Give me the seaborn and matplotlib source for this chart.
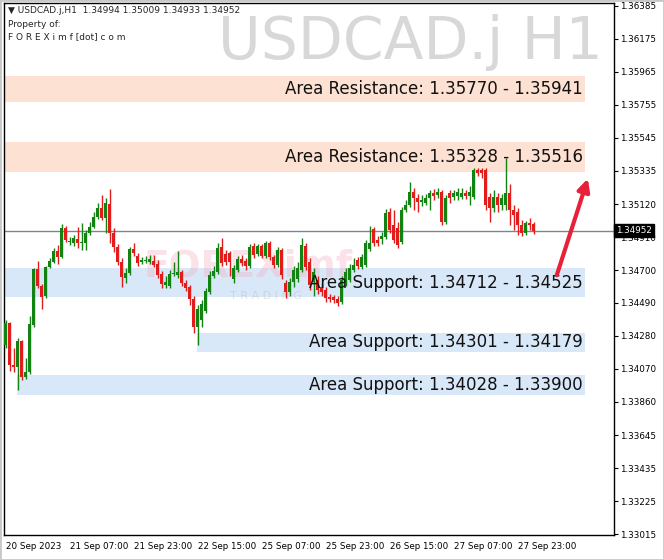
import matplotlib
matplotlib.use("Agg")
import matplotlib.pyplot as plt
import matplotlib.transforms as mtransforms
import numpy as np
import pandas as pd
import seaborn as sns

# USDCAD.j H1 candles (bar index 0 = 20 Sep 2023 15:00)
opens = [1.34222, 1.34363, 1.34095, 1.34082, 1.34248, 1.34018, 1.34050, 1.34350, 1.34708, 1.34599,
         1.34535, 1.34720, 1.34752, 1.34822, 1.34783, 1.34969, 1.34879, 1.34873, 1.34899, 1.34873,
         1.34873, 1.34937, 1.34975, 1.35039, 1.35096, 1.35033, 1.35121, 1.34937, 1.34847, 1.34752,
         1.34650, 1.34682, 1.34835, 1.34790, 1.34752, 1.34759, 1.34752, 1.34759, 1.34739, 1.34675,
         1.34605, 1.34599, 1.34675, 1.34669, 1.34688, 1.34618, 1.34592, 1.34516, 1.34337, 1.34382,
         1.34440, 1.34560, 1.34663, 1.34688, 1.34847, 1.34802, 1.34809, 1.34644, 1.34701, 1.34771,
         1.34759, 1.34727, 1.34854, 1.34802, 1.34854, 1.34790, 1.34873, 1.34783, 1.34733, 1.34828,
         1.34618, 1.34560, 1.34624, 1.34644, 1.34701, 1.34854, 1.34752, 1.34624, 1.34637, 1.34592,
         1.34573, 1.34528, 1.34528, 1.34516, 1.34496, 1.34624, 1.34637, 1.34701, 1.34765, 1.34720,
         1.34733, 1.34835, 1.34962, 1.34892, 1.34899, 1.34911, 1.35071, 1.34988, 1.34969, 1.34879,
         1.35084, 1.35115, 1.35198, 1.35160, 1.35135, 1.35128, 1.35160, 1.35192, 1.35179, 1.35198,
         1.35007, 1.35192, 1.35166, 1.35173, 1.35166, 1.35192, 1.35173, 1.35166, 1.35339, 1.35339,
         1.35339, 1.35166, 1.35096, 1.35166, 1.35115, 1.35115, 1.35192, 1.35084, 1.35071, 1.34988,
         1.34937, 1.35001, 1.34994]
highs = [1.34382, 1.34369, 1.34203, 1.34267, 1.34254, 1.34139, 1.34408, 1.34714, 1.34759, 1.34611,
         1.34727, 1.34777, 1.34841, 1.34860, 1.34994, 1.34982, 1.34911, 1.34924, 1.34975, 1.35001,
         1.34956, 1.35007, 1.35071, 1.35128, 1.35179, 1.35160, 1.35218, 1.34969, 1.34866, 1.34777,
         1.34714, 1.34847, 1.34873, 1.34809, 1.34783, 1.34790, 1.34796, 1.34796, 1.34765, 1.34695,
         1.34663, 1.34701, 1.34752, 1.34822, 1.34701, 1.34637, 1.34605, 1.34535, 1.34477, 1.34509,
         1.34586, 1.34695, 1.34727, 1.34873, 1.34905, 1.34828, 1.34822, 1.34733, 1.34790, 1.34796,
         1.34777, 1.34866, 1.34873, 1.34866, 1.34866, 1.34886, 1.34886, 1.34796, 1.34847, 1.34841,
         1.34637, 1.34650, 1.34727, 1.34752, 1.34905, 1.34873, 1.34777, 1.34714, 1.34663, 1.34618,
         1.34592, 1.34547, 1.34541, 1.34535, 1.34663, 1.34714, 1.34739, 1.34777, 1.34783, 1.34802,
         1.34892, 1.34982, 1.34975, 1.34918, 1.34943, 1.35090, 1.35096, 1.35084, 1.35007, 1.35103,
         1.35147, 1.35262, 1.35224, 1.35186, 1.35179, 1.35186, 1.35211, 1.35218, 1.35224, 1.35211,
         1.35179, 1.35211, 1.35211, 1.35224, 1.35224, 1.35211, 1.35237, 1.35352, 1.35352, 1.35352,
         1.35352, 1.35192, 1.35211, 1.35192, 1.35186, 1.35416, 1.35250, 1.35115, 1.35096, 1.35020,
         1.35014, 1.35033, 1.35009]
lows = [1.34203, 1.34057, 1.34050, 1.33935, 1.33999, 1.34006, 1.34037, 1.34337, 1.34586, 1.34452,
        1.34522, 1.34714, 1.34746, 1.34739, 1.34777, 1.34879, 1.34860, 1.34854, 1.34841, 1.34828,
        1.34828, 1.34924, 1.34969, 1.35027, 1.35020, 1.34937, 1.34873, 1.34815, 1.34733, 1.34592,
        1.34618, 1.34669, 1.34790, 1.34727, 1.34739, 1.34746, 1.34739, 1.34720, 1.34650, 1.34586,
        1.34586, 1.34586, 1.34663, 1.34650, 1.34599, 1.34567, 1.34477, 1.34299, 1.34222, 1.34337,
        1.34427, 1.34547, 1.34650, 1.34675, 1.34727, 1.34733, 1.34663, 1.34618, 1.34688, 1.34727,
        1.34701, 1.34714, 1.34777, 1.34790, 1.34777, 1.34777, 1.34765, 1.34714, 1.34720, 1.34644,
        1.34522, 1.34535, 1.34592, 1.34624, 1.34688, 1.34701, 1.34573, 1.34535, 1.34547, 1.34535,
        1.34496, 1.34496, 1.34490, 1.34471, 1.34483, 1.34599, 1.34624, 1.34688, 1.34708, 1.34708,
        1.34720, 1.34822, 1.34854, 1.34854, 1.34866, 1.34899, 1.34937, 1.34873, 1.34841, 1.34866,
        1.35071, 1.35103, 1.35084, 1.35071, 1.35109, 1.35115, 1.35084, 1.35147, 1.35160, 1.34988,
        1.34994, 1.35128, 1.35147, 1.35147, 1.35154, 1.35154, 1.35115, 1.35154, 1.35301, 1.35288,
        1.35084, 1.35007, 1.35071, 1.35071, 1.35084, 1.35084, 1.34988, 1.34956, 1.34924, 1.34918,
        1.34924, 1.34956, 1.34933]
closes = [1.34363, 1.34095, 1.34082, 1.34248, 1.34018, 1.34050, 1.34356, 1.34708, 1.34599, 1.34528,
          1.34720, 1.34759, 1.34822, 1.34783, 1.34969, 1.34892, 1.34886, 1.34905, 1.34873, 1.34879,
          1.34937, 1.34975, 1.35039, 1.35096, 1.35033, 1.35128, 1.34937, 1.34847, 1.34752, 1.34656,
          1.34682, 1.34835, 1.34809, 1.34746, 1.34765, 1.34765, 1.34771, 1.34733, 1.34669, 1.34611,
          1.34624, 1.34675, 1.34682, 1.34688, 1.34618, 1.34586, 1.34516, 1.34337, 1.34452, 1.34483,
          1.34567, 1.34669, 1.34695, 1.34841, 1.34746, 1.34752, 1.34752, 1.34714, 1.34771, 1.34746,
          1.34727, 1.34847, 1.34796, 1.34854, 1.34790, 1.34873, 1.34783, 1.34733, 1.34828, 1.34669,
          1.34560, 1.34624, 1.34701, 1.34714, 1.34860, 1.34720, 1.34605, 1.34688, 1.34573, 1.34560,
          1.34522, 1.34516, 1.34509, 1.34490, 1.34637, 1.34688, 1.34714, 1.34733, 1.34727, 1.34783,
          1.34873, 1.34873, 1.34873, 1.34873, 1.34918, 1.35065, 1.34956, 1.34892, 1.34860, 1.35084,
          1.35115, 1.35198, 1.35160, 1.35135, 1.35147, 1.35160, 1.35192, 1.35173, 1.35198, 1.35007,
          1.35160, 1.35160, 1.35192, 1.35198, 1.35192, 1.35173, 1.35198, 1.35339, 1.35320, 1.35320,
          1.35115, 1.35096, 1.35166, 1.35115, 1.35160, 1.35192, 1.35084, 1.35052, 1.34988, 1.34937,
          1.35001, 1.34988, 1.34952]

time_ticks = [0, 16, 32, 48, 64, 80, 96, 112, 128]
time_labels = ["20 Sep 2023", "21 Sep 07:00", "21 Sep 23:00", "22 Sep 15:00", "25 Sep 07:00",
               "25 Sep 23:00", "26 Sep 15:00", "27 Sep 07:00", "27 Sep 23:00"]
price_ticks = [1.36385, 1.36175, 1.35965, 1.35755, 1.35545, 1.35335, 1.35120, 1.34910, 1.34700,
               1.34490, 1.34280, 1.34070, 1.33860, 1.33645, 1.33435, 1.33225, 1.33015]

zone_names = ["Area Resistance", "Area Resistance", "Area Support", "Area Support", "Area Support"]
zone_low = [1.35770, 1.35328, 1.34525, 1.34179, 1.33900]
zone_high = [1.35941, 1.35516, 1.34712, 1.34301, 1.34028]
zone_text = ["1.35770 - 1.35941", "1.35328 - 1.35516", "1.34712 - 1.34525",
             "1.34301 - 1.34179", "1.34028 - 1.33900"]
zone_start = [-0.4, -0.4, -0.4, 47.9, 2.9]

last_price = 1.34952
header = "\u25bc USDCAD.j,H1  1.34994 1.35009 1.34933 1.34952"

df = pd.DataFrame({"open": opens, "high": highs, "low": lows, "close": closes})
df["bar"] = np.arange(len(df))
df["up"] = df["close"] >= df["open"]

sns.set_theme(style="white")
plt.rcParams["font.family"] = ["DejaVu Sans"]

GREEN = "#128312"
RED = "#e21b1b"

fig = plt.figure(figsize=(6.64, 5.6), dpi=100)
ax = fig.add_axes([4 / 664, 25 / 560, 610 / 664, 532 / 560])
ax.set_xlim(-0.375, 152.125)
ax.set_ylim(1.33009, 1.36404)

# zones
for name, lo, hi, txt, x0 in zip(zone_names, zone_low, zone_high, zone_text, zone_start):
    col = "#fde1d3" if "Resistance" in name else "#d9e8f8"
    ax.fill_between([x0, 144.9], lo, hi, color=col, lw=0, zorder=1)
    ax.text(144.4, (lo + hi) / 2, f"{name}: {txt}", ha="right", va="center",
            fontsize=12, color="#111111", zorder=5)

# current price line
ax.axhline(last_price, color="#7d858c", lw=1, zorder=2)

# candles
colors = np.where(df["up"], GREEN, RED)
ax.vlines(df["bar"], df["low"], df["high"], colors=colors, lw=1, zorder=3)
body = (df["close"] - df["open"]).abs().clip(lower=0.00007)
ax.bar(df["bar"], body, bottom=df[["open", "close"]].min(axis=1), width=0.72,
       color=colors, lw=0, zorder=4)

# watermarks
ax.text(0.982, 0.925, "USDCAD.j H1", transform=ax.transAxes, ha="right", va="center",
        fontsize=42, color="#d8d8d8", zorder=0)
ax.text(0.40, 0.505, "FOREXimf", transform=ax.transAxes, ha="center", va="center",
        fontsize=27, fontweight="bold", color="#f4a0b8", alpha=0.3, zorder=2)
ax.text(0.43, 0.45, "T R A D I N G", transform=ax.transAxes, ha="center", va="center",
        fontsize=8, color="#b0b0b0", alpha=0.35, zorder=2)

# header
ax.text(0.006, 0.985, header, transform=ax.transAxes, ha="left", va="center", fontsize=6.5)
ax.text(0.006, 0.960, "Property of:", transform=ax.transAxes, ha="left", va="center", fontsize=6.5)
ax.text(0.006, 0.936, "F O R E X i m f [dot] c o m", transform=ax.transAxes, ha="left",
        va="center", fontsize=6.5)

# arrow
ax.annotate("", xy=(145.8, 1.35300), xytext=(137.6, 1.34650),
            arrowprops=dict(arrowstyle="-|>", color="#e8213a", lw=3, mutation_scale=18),
            zorder=6)

# axes
ax.yaxis.tick_right()
ax.set_yticks(price_ticks)
ax.set_yticklabels([f"{p:.5f}" for p in price_ticks])
ax.set_xticks(time_ticks)
ax.set_xticklabels(time_labels)
for lbl in ax.get_xticklabels():
    lbl.set_ha("left")
ax.tick_params(axis="both", direction="out", length=3, width=0.8, colors="black",
               labelsize=6.3, pad=1.5)
ax.tick_params(axis="x", pad=2)
for s in ax.spines.values():
    s.set_color("black")
    s.set_linewidth(1)
ax.grid(False)

trans = mtransforms.blended_transform_factory(ax.transAxes, ax.transData)
ax.text(1.003, last_price, f"{last_price:.5f}", transform=trans, ha="left", va="center",
        fontsize=6.3, color="white", zorder=10, clip_on=False,
        bbox=dict(boxstyle="square,pad=0.25", fc="black", ec="black"))

fig.patches.append(plt.Rectangle((0, 0), 1, 1, transform=fig.transFigure, fill=False,
                                 ec="#c8c8c8", lw=2))
fig.savefig("out.png", dpi=100)
